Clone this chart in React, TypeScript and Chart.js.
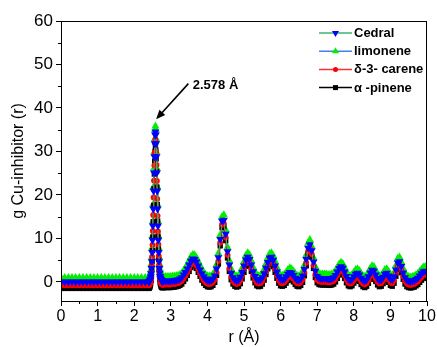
import React, { useEffect, useRef } from 'react';
import { Chart, registerables } from 'chart.js';

Chart.register(...registerables);

const FONT = '"Liberation Sans", Arial, sans-serif';

// r grid (Å): coarse flat part, fine first peak, medium rest
const grid = (a: number, b: number, s: number) => {
  const out: number[] = [];
  const n = Math.round((b - a) / s);
  for (let i = 0; i <= n; i++) out.push(Math.round((a + i * s) * 1000) / 1000);
  return out;
};
const rValues = [...grid(0, 2.4, 0.1), ...grid(2.41, 2.8, 0.01), ...grid(2.85, 10, 0.05)];

const xTicks = [0, 1, 2, 3, 4, 5, 6, 7, 8, 9, 10];
const yTicks = [0, 10, 20, 30, 40, 50, 60];

const cedral = [
  0, 0, 0, 0, 0, 0, 0, 0, 0, 0, 0, 0, 0, 0, 0, 0, 0, 0, 0, 0, 0, 0, 0, 0, 0,
  0.1, 0.2, 0.4, 0.7, 1.2, 1.9, 3.1, 4.7, 6.8, 9.6,
  12.9, 16.8, 20.9, 25.1, 28.8, 31.8, 33.8, 34.5, 33.8, 31.8,
  28.8, 25.1, 20.9, 16.8, 12.9, 9.6, 6.8, 4.7, 3.1, 2.0,
  1.3, 0.9, 0.6, 0.4, 0.3, 0.2, 0.2, 0.2, 0.2, 0.2,
  0.2, 0.2, 0.2, 0.2, 0.3, 0.3, 0.4, 0.5, 0.7, 1.0,
  1.6, 2.2, 3.0, 3.9, 4.8, 5.3, 5.2, 4.6, 3.7, 2.8,
  1.9, 1.2, 0.7, 0.4, 0.3, 0.4, 0.7, 1.4, 3.0, 5.6,
  9.8, 14.0, 14.2, 11.0, 7.0, 3.9, 2.0, 1.0, 0.5, 0.3,
  0.5, 1.1, 2.2, 3.7, 5.1, 5.7, 5.2, 3.9, 2.4, 1.3,
  0.6, 0.4, 0.5, 1.0, 1.9, 3.2, 4.5, 5.5, 5.7, 5.0,
  3.7, 2.3, 1.2, 0.6, 0.5, 0.7, 1.2, 1.8, 2.2, 2.0,
  1.5, 0.9, 0.5, 0.4, 0.7, 1.4, 2.9, 5.2, 7.8, 8.6,
  7.2, 4.6, 2.5, 1.3, 0.9, 0.8, 0.8, 0.8, 0.8, 0.7,
  0.7, 0.8, 1.0, 1.5, 2.3, 3.1, 3.5, 3.2, 2.3, 1.3,
  0.6, 0.4, 0.6, 1.2, 1.8, 2.0, 1.6, 0.9, 0.4, 0.2,
  0.5, 1.2, 2.1, 2.7, 2.5, 1.6, 0.8, 0.4, 0.5, 1.1,
  1.8, 2.0, 1.4, 0.7, 0.5, 1.2, 2.8, 4.4, 4.7, 3.6,
  2.1, 1.0, 0.4, 0.2, 0.1, 0.2, 0.3, 0.6, 0.9, 1.4,
  1.9, 2.4, 2.5, 2.3,
];

const limonene = [
  1, 1, 1, 1, 1, 1, 1, 1, 1, 1, 1, 1, 1, 1, 1, 1, 1, 1, 1, 1, 1, 1, 1, 1, 1,
  1.1, 1.2, 1.4, 1.7, 2.2, 2.9, 4.1, 5.7, 7.8, 10.6,
  13.9, 17.8, 21.9, 26.1, 29.8, 32.9, 35.0, 35.8, 35.0, 32.9,
  29.8, 26.1, 21.9, 17.8, 13.9, 10.6, 7.8, 5.7, 4.1, 3.0,
  2.3, 1.9, 1.6, 1.4, 1.3, 1.2, 1.2, 1.2, 1.2, 1.2,
  1.2, 1.2, 1.2, 1.2, 1.3, 1.3, 1.4, 1.5, 1.7, 2.0,
  2.6, 3.2, 4.0, 4.9, 5.8, 6.3, 6.2, 5.6, 4.7, 3.8,
  2.9, 2.2, 1.7, 1.4, 1.3, 1.4, 1.7, 2.4, 4.0, 6.6,
  10.8, 15.0, 15.4, 12.0, 8.0, 4.9, 3.0, 2.0, 1.5, 1.3,
  1.5, 2.1, 3.2, 4.7, 6.1, 6.7, 6.2, 4.9, 3.4, 2.3,
  1.6, 1.4, 1.5, 2.0, 2.9, 4.2, 5.5, 6.5, 6.7, 6.0,
  4.7, 3.3, 2.2, 1.6, 1.5, 1.7, 2.2, 2.8, 3.2, 3.0,
  2.5, 1.9, 1.5, 1.4, 1.7, 2.4, 3.9, 6.2, 8.9, 9.7,
  8.2, 5.6, 3.5, 2.3, 1.9, 1.8, 1.8, 1.8, 1.8, 1.7,
  1.7, 1.8, 2.0, 2.5, 3.3, 4.1, 4.5, 4.2, 3.3, 2.3,
  1.6, 1.4, 1.6, 2.2, 2.8, 3.0, 2.6, 1.9, 1.4, 1.2,
  1.5, 2.2, 3.1, 3.7, 3.5, 2.6, 1.8, 1.4, 1.5, 2.1,
  2.8, 3.0, 2.4, 1.7, 1.5, 2.2, 3.8, 5.4, 5.7, 4.6,
  3.1, 2.0, 1.4, 1.2, 1.1, 1.2, 1.3, 1.6, 1.9, 2.4,
  2.9, 3.4, 3.5, 3.3,
];

const carene = [
  -0.8, -0.8, -0.8, -0.8, -0.8, -0.8, -0.8, -0.8, -0.8, -0.8, -0.8, -0.8, -0.8,
  -0.8, -0.8, -0.8, -0.8, -0.8, -0.8, -0.8, -0.8, -0.8, -0.8, -0.8, -0.8,
  -0.7, -0.6, -0.4, -0.1, 0.4, 1.1, 2.2, 3.8, 5.8, 8.5,
  11.7, 15.4, 19.4, 23.3, 26.8, 29.8, 31.9, 32.8, 32.0, 29.9,
  26.9, 23.2, 19.1, 15.2, 11.6, 8.6, 6.0, 3.9, 2.3, 1.2,
  0.5, 0.1, -0.2, -0.4, -0.5, -0.6, -0.6, -0.6, -0.6, -0.6,
  -0.6, -0.6, -0.6, -0.6, -0.5, -0.5, -0.4, -0.3, -0.1, 0.2,
  0.8, 1.4, 2.2, 3.1, 4.0, 4.5, 4.4, 3.8, 2.9, 2.0,
  1.1, 0.4, -0.1, -0.4, -0.5, -0.4, -0.1, 0.6, 2.2, 4.8,
  9.0, 13.2, 13.4, 10.2, 6.2, 3.1, 1.2, 0.2, -0.3, -0.5,
  -0.3, 0.3, 1.4, 2.9, 4.3, 4.9, 4.4, 3.1, 1.6, 0.5,
  -0.2, -0.4, -0.3, 0.2, 1.1, 2.4, 3.7, 4.7, 4.9, 4.2,
  2.9, 1.5, 0.4, -0.2, -0.3, -0.1, 0.4, 1.0, 1.4, 1.2,
  0.7, 0.1, -0.3, -0.4, -0.1, 0.6, 2.1, 4.4, 7.0, 7.8,
  6.4, 3.8, 1.7, 0.5, 0.1, 0.0, 0.0, 0.0, 0.0, -0.1,
  -0.1, 0.0, 0.2, 0.7, 1.5, 2.3, 2.7, 2.4, 1.5, 0.5,
  -0.2, -0.4, -0.2, 0.4, 1.0, 1.2, 0.8, 0.1, -0.4, -0.6,
  -0.3, 0.4, 1.3, 1.9, 1.7, 0.8, 0.0, -0.4, -0.3, 0.3,
  1.0, 1.2, 0.6, -0.1, -0.3, 0.4, 2.0, 3.6, 3.9, 2.8,
  1.3, 0.2, -0.4, -0.6, -0.7, -0.6, -0.5, -0.2, 0.1, 0.6,
  1.1, 1.6, 1.7, 1.5,
];

const pinene = [
  -1.5, -1.5, -1.5, -1.5, -1.5, -1.5, -1.5, -1.5, -1.5, -1.5, -1.5, -1.5, -1.5,
  -1.5, -1.5, -1.5, -1.5, -1.5, -1.5, -1.5, -1.5, -1.5, -1.5, -1.5, -1.5,
  -1.4, -1.3, -1.1, -0.8, -0.4, 0.3, 1.3, 2.8, 4.7, 7.2,
  10.3, 13.8, 17.6, 21.4, 24.8, 27.8, 30.0, 31.0, 30.3, 28.3,
  25.4, 21.8, 17.8, 14.0, 10.5, 7.6, 5.1, 3.1, 1.6, 0.5,
  -0.2, -0.6, -0.9, -1.1, -1.2, -1.3, -1.3, -1.3, -1.3, -1.3,
  -1.3, -1.3, -1.3, -1.3, -1.2, -1.2, -1.1, -1.0, -0.8, -0.5,
  0.1, 0.7, 1.5, 2.4, 3.3, 3.8, 3.7, 3.1, 2.2, 1.3,
  0.4, -0.3, -0.8, -1.1, -1.2, -1.1, -0.8, -0.1, 1.5, 4.1,
  8.3, 12.5, 12.7, 9.5, 5.5, 2.4, 0.5, -0.5, -1.0, -1.2,
  -1.0, -0.4, 0.7, 2.2, 3.6, 4.2, 3.7, 2.4, 0.9, -0.2,
  -0.9, -1.1, -1.0, -0.5, 0.4, 1.7, 3.0, 4.0, 4.2, 3.5,
  2.2, 0.8, -0.3, -0.9, -1.0, -0.8, -0.3, 0.3, 0.7, 0.5,
  0.0, -0.6, -1.0, -1.1, -0.8, -0.1, 1.4, 3.7, 6.3, 7.1,
  5.7, 3.1, 1.0, -0.2, -0.6, -0.7, -0.7, -0.7, -0.7, -0.8,
  -0.8, -0.7, -0.5, 0.0, 0.8, 1.6, 2.0, 1.7, 0.8, -0.2,
  -0.9, -1.1, -0.9, -0.3, 0.3, 0.5, 0.1, -0.6, -1.1, -1.3,
  -1.0, -0.3, 0.6, 1.2, 1.0, 0.1, -0.7, -1.1, -1.0, -0.4,
  0.3, 0.5, -0.1, -0.8, -1.0, -0.3, 1.3, 2.9, 3.2, 2.1,
  0.6, -0.5, -1.1, -1.3, -1.4, -1.3, -1.2, -0.9, -0.6, -0.1,
  0.4, 0.9, 1.0, 0.8,
];

const peakLabel = '2.578 Å';
const arrowFrom = { x: 3.48, y: 45.6 };
const arrowTo = { x: 2.6, y: 37.4 };
const labelAt = { x: 3.6, y: 45.2 };

type Item = { label: string; line: string; fill: string; style: 'up' | 'down' | 'circle' | 'square' };
const legendItems: Item[] = [
  { label: 'Cedral', line: '#3cb371', fill: '#0000ff', style: 'down' },
  { label: 'limonene', line: '#4a7fe6', fill: '#00ee00', style: 'up' },
  { label: 'δ-3- carene', line: '#ff3030', fill: '#ff0000', style: 'circle' },
  { label: 'α -pinene', line: '#000000', fill: '#000000', style: 'square' },
];

function drawMarker(ctx: CanvasRenderingContext2D, style: Item['style'], x: number, y: number, color: string) {
  ctx.fillStyle = color;
  ctx.beginPath();
  if (style === 'down') {
    ctx.moveTo(x - 3.5, y - 2);
    ctx.lineTo(x + 3.5, y - 2);
    ctx.lineTo(x, y + 4);
  } else if (style === 'up') {
    ctx.moveTo(x - 3.5, y + 2);
    ctx.lineTo(x + 3.5, y + 2);
    ctx.lineTo(x, y - 4);
  } else if (style === 'circle') {
    ctx.arc(x, y, 2.5, 0, Math.PI * 2);
  } else {
    ctx.rect(x - 2.5, y - 2.5, 5, 5);
  }
  ctx.closePath();
  ctx.fill();
}

const decorPlugin = {
  id: 'decor',
  afterDraw(chart: any) {
    const { ctx, chartArea, scales } = chart;
    const xs = scales.x;
    const ys = scales.y;
    ctx.save();
    // frame
    ctx.strokeStyle = '#000';
    ctx.lineWidth = 1;
    ctx.strokeRect(chartArea.left + 0.5, chartArea.top + 0.5, chartArea.right - chartArea.left - 1, chartArea.bottom - chartArea.top);
    // minor ticks
    ctx.beginPath();
    for (let i = 0; i < xTicks.length - 1; i++) {
      const px = Math.round(xs.getPixelForValue((xTicks[i] + xTicks[i + 1]) / 2)) + 0.5;
      ctx.moveTo(px, chartArea.bottom);
      ctx.lineTo(px, chartArea.bottom + 3);
    }
    for (let i = 0; i < yTicks.length - 1; i++) {
      const py = Math.round(ys.getPixelForValue((yTicks[i] + yTicks[i + 1]) / 2)) + 0.5;
      ctx.moveTo(chartArea.left, py);
      ctx.lineTo(chartArea.left - 3, py);
    }
    ctx.stroke();

    // annotation arrow
    const x1 = xs.getPixelForValue(arrowFrom.x);
    const y1 = ys.getPixelForValue(arrowFrom.y);
    const x2 = xs.getPixelForValue(arrowTo.x);
    const y2 = ys.getPixelForValue(arrowTo.y);
    const ang = Math.atan2(y2 - y1, x2 - x1);
    ctx.strokeStyle = '#000';
    ctx.lineWidth = 1.6;
    ctx.beginPath();
    ctx.moveTo(x1, y1);
    ctx.lineTo(x2 - Math.cos(ang) * 6, y2 - Math.sin(ang) * 6);
    ctx.stroke();
    ctx.fillStyle = '#000';
    ctx.beginPath();
    ctx.moveTo(x2, y2);
    ctx.lineTo(x2 - Math.cos(ang - 0.4) * 10, y2 - Math.sin(ang - 0.4) * 10);
    ctx.lineTo(x2 - Math.cos(ang + 0.4) * 10, y2 - Math.sin(ang + 0.4) * 10);
    ctx.closePath();
    ctx.fill();
    ctx.font = `bold 13px ${FONT}`;
    ctx.textBaseline = 'middle';
    ctx.textAlign = 'left';
    ctx.fillText(peakLabel, xs.getPixelForValue(labelAt.x), ys.getPixelForValue(labelAt.y));

    // legend
    const lx0 = 319;
    const lx1 = 352;
    let ly = 33;
    ctx.font = `bold 13px ${FONT}`;
    for (const it of legendItems) {
      ctx.strokeStyle = it.line;
      ctx.lineWidth = 1.5;
      ctx.beginPath();
      ctx.moveTo(lx0, ly);
      ctx.lineTo(lx1, ly);
      ctx.stroke();
      drawMarker(ctx, it.style, (lx0 + lx1) / 2, ly, it.fill);
      ctx.fillStyle = '#000';
      ctx.fillText(it.label, 354, ly + 0.5);
      ly += 18.2;
    }
    ctx.restore();
  },
};

export default function App() {
  const ref = useRef<HTMLCanvasElement>(null);
  useEffect(() => {
    if (!ref.current) return;
    const n = rValues.length;
    const pts = (arr: number[]) => arr.slice(0, n).map((v, i) => ({ x: rValues[i], y: v }));
    const chart = new Chart(ref.current, {
      type: 'line',
      data: {
        datasets: [
          {
            label: 'Cedral', data: pts(cedral), borderColor: '#3cb371', borderWidth: 1,
            pointStyle: 'triangle', rotation: 180, pointRadius: 4.6,
            pointBackgroundColor: '#0000ff', pointBorderColor: '#0000ff', pointBorderWidth: 0, order: 0,
          } as any,
          {
            label: 'limonene', data: pts(limonene), borderColor: '#4a7fe6', borderWidth: 1,
            pointStyle: 'triangle', pointRadius: 4.6,
            pointBackgroundColor: '#00ee00', pointBorderColor: '#00ee00', pointBorderWidth: 0, order: 3,
          },
          {
            label: 'δ-3- carene', data: pts(carene), borderColor: '#ff3030', borderWidth: 1,
            pointStyle: 'circle', pointRadius: 2.9,
            pointBackgroundColor: '#ff0000', pointBorderColor: '#ff0000', pointBorderWidth: 0, order: 1,
          },
          {
            label: 'α -pinene', data: pts(pinene), borderColor: '#000000', borderWidth: 1,
            pointStyle: 'rect', pointRadius: 3.8,
            pointBackgroundColor: '#000000', pointBorderColor: '#000000', pointBorderWidth: 0, order: 2,
          },
        ],
      },
      options: {
        animation: false,
        responsive: false,
        devicePixelRatio: 1,
        layout: { padding: { left: 0, top: 21, right: 10, bottom: 0 } },
        plugins: { legend: { display: false }, tooltip: { enabled: false } },
        elements: { line: { tension: 0 } },
        scales: {
          x: {
            type: 'linear', min: 0, max: 10,
            afterBuildTicks: (axis: any) => { axis.ticks = xTicks.map((v) => ({ value: v })); },
            afterFit: (s: any) => { s.height = 46; },
            grid: { drawOnChartArea: false, drawTicks: true, tickLength: 5, color: '#000', tickWidth: 1 },
            border: { color: '#000', width: 1 },
            ticks: { color: '#000', font: { family: FONT, size: 16 }, padding: 1, maxRotation: 0, autoSkip: false },
            title: { display: true, text: 'r (Å)', color: '#000', font: { family: FONT, size: 16, lineHeight: 1.2 }, padding: { top: 0, bottom: 0 } },
          },
          y: {
            type: 'linear', min: -4.4, max: 60,
            afterBuildTicks: (axis: any) => { axis.ticks = yTicks.map((v) => ({ value: v })); },
            afterFit: (s: any) => { s.width = 61; },
            grid: { drawOnChartArea: false, drawTicks: true, tickLength: 5, color: '#000', tickWidth: 1 },
            border: { color: '#000', width: 1 },
            ticks: { color: '#000', font: { family: FONT, size: 17 }, padding: 3, autoSkip: false },
            title: { display: true, text: 'g Cu-inhibitor (r)', color: '#000', font: { family: FONT, size: 16, lineHeight: 1.2 }, padding: { top: 9, bottom: 0 } },
          },
        },
      },
      plugins: [decorPlugin],
    });
    return () => chart.destroy();
  }, []);
  return (
    <div style={{ position: 'absolute', left: 0, top: 0, width: 437, height: 347, background: '#fff' }}>
      <canvas ref={ref} width={437} height={347} style={{ display: 'block', width: 437, height: 347 }} />
    </div>
  );
}
